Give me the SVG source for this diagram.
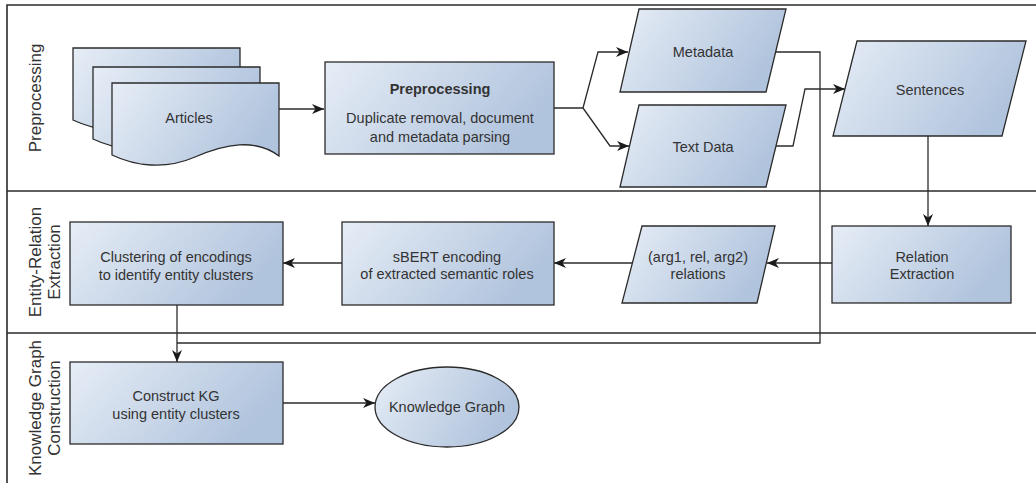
<svg xmlns="http://www.w3.org/2000/svg" width="1036" height="483" viewBox="0 0 1036 483">
<style>
.shape{fill:url(#grad);stroke:#2b2b2b;stroke-width:1.3}
.lbl{font-family:"Liberation Sans",Arial,sans-serif;font-size:14.5px;fill:#333;text-anchor:middle}
.bold{font-weight:bold}
.lane{font-family:"Liberation Sans",Arial,sans-serif;font-size:17px;fill:#333;text-anchor:middle}
.frame{fill:none;stroke:#2b2b2b;stroke-width:1.6}
.conn{fill:none;stroke:#2b2b2b;stroke-width:1.3}
.arr{marker-end:url(#ah)}
</style>
<defs>
<linearGradient id="grad" x1="0" y1="0" x2="1" y2="0.35">
<stop offset="0" stop-color="#e6edf6"/>
<stop offset="1" stop-color="#b1c4dd"/>
</linearGradient>
<marker id="ah" viewBox="0 0 12 10" refX="12" refY="5" markerWidth="12" markerHeight="10" orient="auto" markerUnits="userSpaceOnUse">
<path d="M0,0 L12,5 L0,10 L3.5,5 Z" fill="#1a1a1a"/>
</marker>
<path id="doc" d="M112,83 H279 V156 C255,138 225,144 195,157 C165,170 135,166 112,155 Z"/>
</defs>
<rect width="1036" height="483" fill="#fff"/>

<g id="lanes">
<path class="frame" d="M7,483 V5 H1036 M7,191 H1036 M7,333 H1036"/>
<text class="lane" transform="translate(41,98) rotate(-90)">Preprocessing</text>
<text class="lane" transform="translate(41,262) rotate(-90)">Entity-Relation</text>
<text class="lane" transform="translate(60,262) rotate(-90)">Extraction</text>
<text class="lane" transform="translate(41,408) rotate(-90)">Knowledge Graph</text>
<text class="lane" transform="translate(60,408) rotate(-90)">Construction</text>
</g>

<g id="connectors">
<path class="conn arr" d="M279,109 H324"/>
<path class="conn arr" d="M554,108 H583 L598,52 H628"/>
<path class="conn arr" d="M583,108 L610,146 H629"/>
<path class="conn arr" d="M776,146 H793 L805,89 H845"/>
<path class="conn" d="M776,52 H820 V343 H177"/>
<path class="conn arr" d="M928,136 V226"/>
<path class="conn arr" d="M832,263 H767"/>
<path class="conn arr" d="M632,263 H554"/>
<path class="conn arr" d="M342,263 H283"/>
<path class="conn arr" d="M177,305 V362"/>
<path class="conn arr" d="M283,403 H375"/>
</g>

<g id="articles">
<use href="#doc" class="shape" transform="translate(-39,-35)"/>
<use href="#doc" class="shape" transform="translate(-19,-16)"/>
<use href="#doc" class="shape"/>
<text class="lbl" x="189" y="123">Articles</text>
</g>

<g id="preprocessing">
<rect class="shape" x="325" y="62" width="229" height="92"/>
<text class="lbl bold" x="440" y="94">Preprocessing</text>
<text class="lbl" x="440" y="123">Duplicate removal, document</text>
<text class="lbl" x="440" y="142">and metadata parsing</text>
</g>

<g id="metadata">
<polygon class="shape" points="639,9 786,9 766,92 620,92"/>
<text class="lbl" x="703" y="57">Metadata</text>
</g>

<g id="textdata">
<polygon class="shape" points="639,105 786,105 766,187 620,187"/>
<text class="lbl" x="703" y="152">Text Data</text>
</g>

<g id="sentences">
<polygon class="shape" points="857,41 1026,41 1002,136 833,136"/>
<text class="lbl" x="930" y="95">Sentences</text>
</g>

<g id="relation-extraction">
<rect class="shape" x="832" y="226" width="179" height="77"/>
<text class="lbl" x="922" y="262">Relation</text>
<text class="lbl" x="922" y="279">Extraction</text>
</g>

<g id="relations">
<polygon class="shape" points="642,226 775,226 757,303 622,303"/>
<text class="lbl" x="698" y="262">(arg1, rel, arg2)</text>
<text class="lbl" x="698" y="279">relations</text>
</g>

<g id="sbert">
<rect class="shape" x="342" y="222" width="212" height="83"/>
<text class="lbl" x="447" y="262">sBERT encoding</text>
<text class="lbl" x="447" y="279">of extracted semantic roles</text>
</g>

<g id="clustering">
<rect class="shape" x="70" y="222" width="213" height="83"/>
<text class="lbl" x="176" y="262">Clustering of encodings</text>
<text class="lbl" x="176" y="280">to identify entity clusters</text>
</g>

<g id="construct-kg">
<rect class="shape" x="70" y="362" width="213" height="82"/>
<text class="lbl" x="176" y="401">Construct KG</text>
<text class="lbl" x="176" y="419">using entity clusters</text>
</g>

<g id="knowledge-graph">
<ellipse class="shape" cx="447" cy="407" rx="72" ry="40"/>
<text class="lbl" x="447" y="412">Knowledge Graph</text>
</g>
</svg>
